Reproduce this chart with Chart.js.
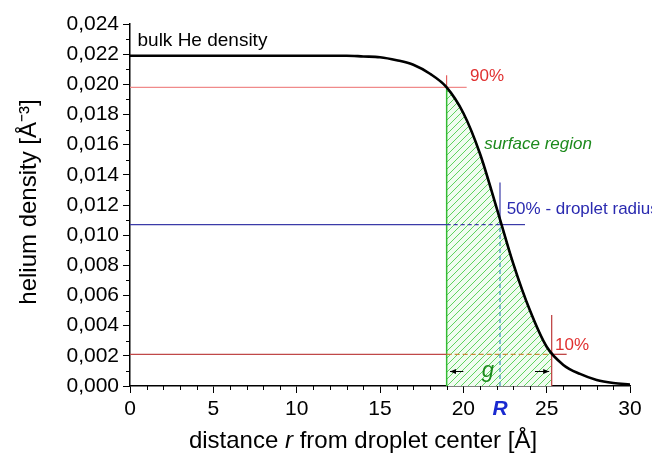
<!DOCTYPE html>
<html>
<head>
<meta charset="utf-8">
<script src="https://cdn.jsdelivr.net/npm/chart.js@4.4.0/dist/chart.umd.min.js"></script>
<style>
  body { margin: 0; background: #fff; }
  #wrap { width: 652px; height: 462px; }
</style>
</head>
<body>
<div id="wrap"><canvas id="myChart" width="652" height="462"></canvas></div>
<script>
// density profile
const rValues = [0, 1, 2, 3, 4, 5, 6, 7, 8, 9, 10, 11, 12, 13, 14, 15, 16, 17, 18, 19, 20, 21, 22, 23, 24, 25, 26, 27, 28, 29, 30];
const heDensity = [0.0219, 0.0219, 0.0219, 0.0219, 0.0219, 0.0219, 0.0219, 0.0219, 0.0219, 0.0219, 0.0219, 0.0219, 0.0219, 0.0219, 0.02185, 0.0218, 0.0216, 0.0213, 0.0207, 0.0198, 0.0181, 0.0154, 0.0118, 0.0081, 0.0050, 0.0026, 0.0014, 0.0008, 0.0004, 0.0002, 0.0001];

// hatched surface region (90% .. 10%)
const surfaceR = [19, 20, 21, 22, 23, 24, 25, 25.3];
const surfaceDensity = [0.0198, 0.0181, 0.0154, 0.0118, 0.0081, 0.0050, 0.0026, 0.0022];

// marker levels
const r90 = 19, level90 = 0.0198;
const rHalf = 22.2, levelHalf = 0.0107;
const r10 = 25.3, level10 = 0.0021;

const xTicks = [0, 5, 10, 15, 20, 25, 30];
const yTicks = [0, 0.002, 0.004, 0.006, 0.008, 0.010, 0.012, 0.014, 0.016, 0.018, 0.020, 0.022, 0.024];

const FONT = "'Liberation Sans', Arial, sans-serif";

function pts(xs, ys) {
  return xs.map((x, i) => ({ x: x, y: ys[i] }));
}

function makeHatch(c2d) {
  const c = document.createElement("canvas");
  c.width = 7;
  c.height = 7;
  const g = c.getContext("2d");
  g.fillStyle = "#f0fcf0";
  g.fillRect(0, 0, 7, 7);
  g.strokeStyle = "#5fd35f";
  g.lineWidth = 1;
  g.beginPath();
  g.moveTo(0, 7); g.lineTo(7, 0);
  g.moveTo(-1, 1); g.lineTo(1, -1);
  g.moveTo(6, 8); g.lineTo(8, 6);
  g.stroke();
  return c2d.createPattern(c, "repeat");
}

function lineSet(data, color, width, order, extra) {
  return Object.assign({
    data: data,
    borderColor: color,
    borderWidth: width,
    pointRadius: 0,
    fill: false,
    tension: 0,
    order: order,
  }, extra || {});
}

const extras = {
  id: "extras",
  afterDraw(chart) {
    const c = chart.ctx;
    const xs = chart.scales.x, ys = chart.scales.y;
    const area = chart.chartArea;
    c.save();
    // minor ticks
    c.strokeStyle = "#000";
    c.lineWidth = 1;
    c.beginPath();
    for (let v = 0; v <= 30; v++) {
      if (v % 5 === 0) continue;
      const px = Math.round(xs.getPixelForValue(v)) + 0.5;
      c.moveTo(px, area.bottom);
      c.lineTo(px, area.bottom + 4);
    }
    for (let k = 1; k < 24; k += 2) {
      const py = Math.round(ys.getPixelForValue(k / 1000)) + 0.5;
      c.moveTo(area.left - 4, py);
      c.lineTo(area.left, py);
    }
    c.stroke();

    // labels
    c.textBaseline = "middle";
    c.fillStyle = "#000";
    c.font = "19px " + FONT;
    c.fillText("bulk He density", xs.getPixelForValue(0.45), ys.getPixelForValue(0.0229));

    c.fillStyle = "#e03030";
    c.font = "17px " + FONT;
    c.fillText("90%", xs.getPixelForValue(20.4), ys.getPixelForValue(0.0205));
    c.fillText("10%", xs.getPixelForValue(25.5), ys.getPixelForValue(0.0027));

    c.fillStyle = "#2a2ab0";
    c.fillText("50% - droplet radius", xs.getPixelForValue(22.6), ys.getPixelForValue(0.0117));

    c.fillStyle = "#1c8a1c";
    c.font = "italic 17px " + FONT;
    c.fillText("surface region", xs.getPixelForValue(21.25), ys.getPixelForValue(0.0160));
    c.font = "italic 22px " + FONT;
    c.fillText("g", xs.getPixelForValue(21.1), ys.getPixelForValue(0.0010));

    // g arrows
    const ay = Math.round(ys.getPixelForValue(0.0010)) + 0.5;
    c.strokeStyle = "#000";
    c.fillStyle = "#000";
    c.lineWidth = 1;
    const arrow = (from, to) => {
      const x0 = xs.getPixelForValue(from), x1 = xs.getPixelForValue(to);
      const d = Math.sign(x1 - x0);
      c.beginPath();
      c.moveTo(x0, ay);
      c.lineTo(x1, ay);
      c.stroke();
      c.beginPath();
      c.moveTo(x1, ay);
      c.lineTo(x1 - d * 6, ay - 2.5);
      c.lineTo(x1 - d * 6, ay + 2.5);
      c.closePath();
      c.fill();
    };
    arrow(20.0, 19.2);
    arrow(24.3, 25.15);

    // R under the axis
    c.fillStyle = "#1a2ad0";
    c.font = "bold italic 21px " + FONT;
    c.textAlign = "center";
    c.fillText("R", xs.getPixelForValue(rHalf), area.bottom + 23);

    // axis titles
    c.fillStyle = "#000";
    const big = "24px " + FONT, bigIt = "italic 24px " + FONT;
    const t1 = "distance ", t2 = "r", t3 = " from droplet center [Å]";
    c.textAlign = "left";
    c.font = big;
    const w1 = c.measureText(t1).width, w3 = c.measureText(t3).width;
    c.font = bigIt;
    const w2 = c.measureText(t2).width;
    const tx = 363 - (w1 + w2 + w3) / 2, ty = 441;
    c.font = big;
    c.fillText(t1, tx, ty);
    c.font = bigIt;
    c.fillText(t2, tx + w1, ty);
    c.font = big;
    c.fillText(t3, tx + w1 + w2, ty);

    c.translate(29, 202);
    c.rotate(-Math.PI / 2);
    c.textAlign = "center";
    c.font = big;
    c.fillText("helium density [Å\u207B\u00B3]", 0, 0);
    c.restore();
  },
};

function loadChart() {
  const ctx = document.getElementById("myChart");
  const hatch = makeHatch(ctx.getContext("2d"));
  const dashMid = (a, b, dash) => (s) =>
    s.p0.parsed.x >= a - 1e-9 && s.p1.parsed.x <= b + 1e-9 ? dash : undefined;

  new Chart(ctx, {
    type: "line",
    data: {
      datasets: [
        // main profile
        lineSet(pts(rValues, heDensity), "#000", 2.6, 0, { cubicInterpolationMode: "monotone" }),
        // surface region
        lineSet(pts(surfaceR, surfaceDensity), "#22aa22", 1.5, 5, {
          cubicInterpolationMode: "monotone",
          fill: "origin",
          backgroundColor: hatch,
        }),
        lineSet([{ x: r90, y: 0 }, { x: r90, y: level90 }], "#33bb33", 1.5, 4),
        // 90 %
        lineSet([{ x: 0, y: level90 }, { x: 20.2, y: level90 }], "#f08a8a", 1.3, 3),
        lineSet([{ x: r90, y: level90 }, { x: r90, y: 0.0206 }], "#e04040", 1, 3),
        // 50 %
        lineSet([{ x: 0, y: levelHalf }, { x: r90, y: levelHalf }, { x: rHalf, y: levelHalf }, { x: 23.7, y: levelHalf }], "#3b3ba8", 1.2, 3, {
          segment: { borderDash: dashMid(r90, rHalf, [4, 3]) },
        }),
        lineSet([{ x: rHalf, y: 0 }, { x: rHalf, y: levelHalf }, { x: rHalf, y: 0.0135 }], "#3b3ba8", 1.2, 3, {
          segment: {
            borderDash: (s) => (s.p1.parsed.y <= levelHalf + 1e-9 ? [4, 3] : undefined),
            borderColor: (s) => (s.p1.parsed.y <= levelHalf + 1e-9 ? "#3a90c0" : undefined),
          },
        }),
        // 10 %
        lineSet([{ x: 0, y: level10 }, { x: r90, y: level10 }, { x: r10, y: level10 }, { x: 26.2, y: level10 }], "#c04848", 1.3, 3, {
          segment: {
            borderDash: dashMid(r90, r10, [5, 3]),
            borderColor: (s) => (s.p0.parsed.x >= r90 && s.p1.parsed.x <= r10 ? "#c88a3a" : undefined),
          },
        }),
        lineSet([{ x: r10, y: 0 }, { x: r10, y: 0.0047 }], "#c04848", 1.3, 3),
      ],
    },
    options: {
      responsive: false,
      animation: false,
      layout: { padding: { top: 24, right: 22, left: 0, bottom: 0 } },
      plugins: { legend: { display: false }, tooltip: { enabled: false } },
      scales: {
        x: {
          type: "linear",
          min: 0,
          max: 30,
          afterFit: (s) => { s.height = 76; },
          afterBuildTicks: (s) => { s.ticks = xTicks.map((v) => ({ value: v })); },
          border: { color: "#000", width: 1.5 },
          grid: { drawOnChartArea: false, color: "#000", tickLength: 7 },
          ticks: { color: "#000", font: { family: FONT, size: 21 }, padding: 4, maxRotation: 0 },
        },
        y: {
          min: 0,
          max: 0.024,
          afterFit: (s) => { s.width = 130; },
          afterBuildTicks: (s) => { s.ticks = yTicks.map((v) => ({ value: v })); },
          border: { color: "#000", width: 1.5 },
          grid: { drawOnChartArea: false, color: "#000", tickLength: 7 },
          ticks: {
            color: "#000",
            font: { family: FONT, size: 21 },
            padding: 4,
            callback: (v) => v.toFixed(3).replace(".", ","),
          },
        },
      },
    },
    plugins: [extras],
  });
}

loadChart();
</script>
</body>
</html>
